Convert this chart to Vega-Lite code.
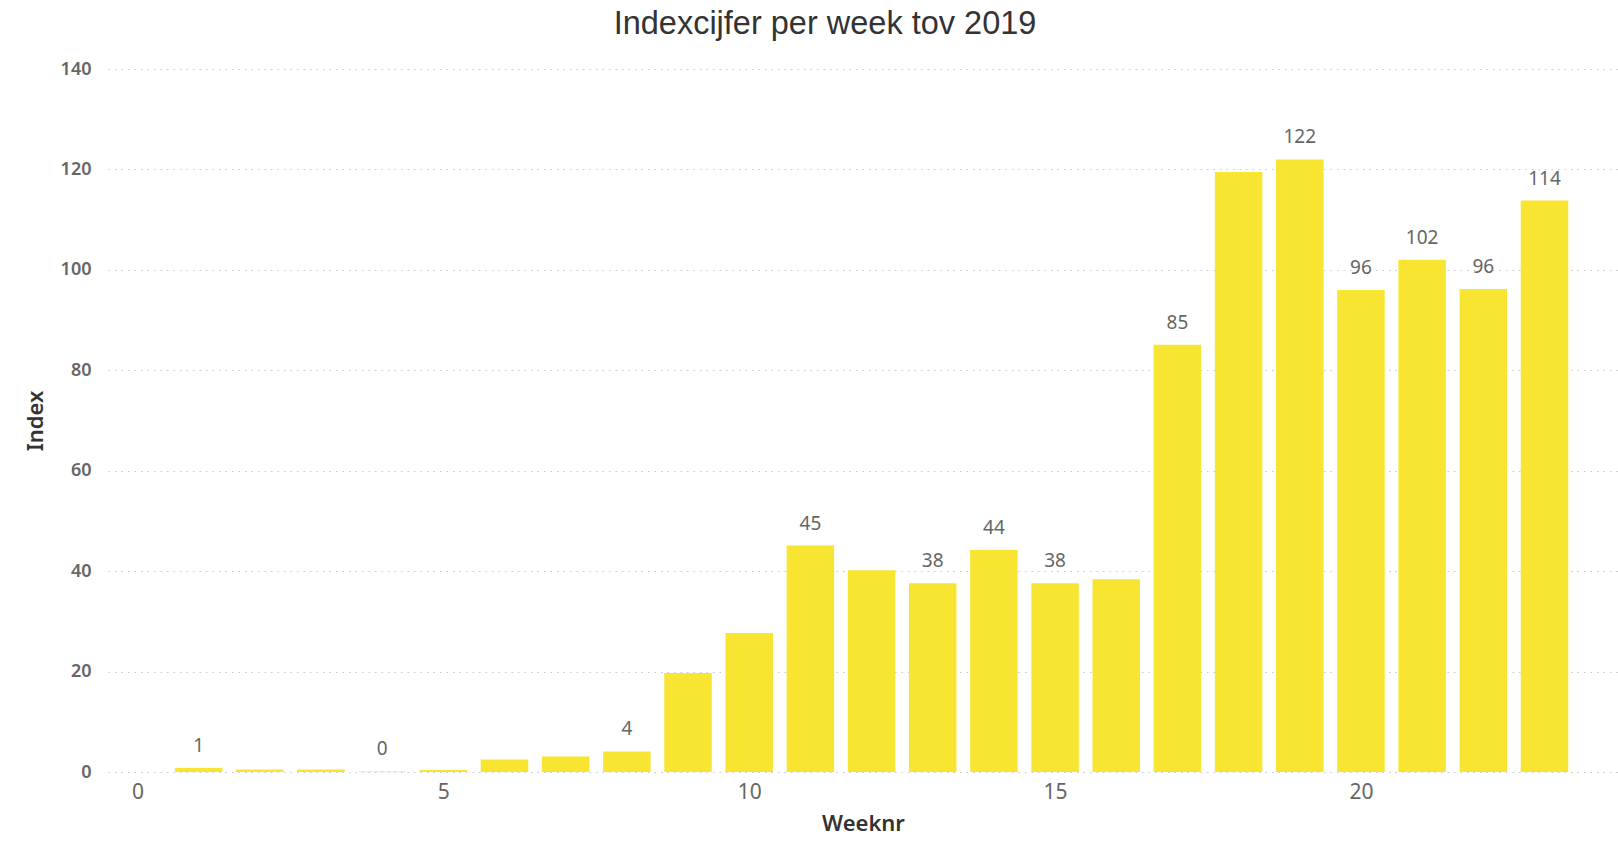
{
  "$schema": "https://vega.github.io/schema/vega-lite/v6.json",
  "autosize": {"type": "none"},
  "width": 1510,
  "height": 703,
  "padding": {"left": 108, "top": 69, "right": 0, "bottom": 69},
  "background": "white",
  "title": {
    "text": "Indexcijfer per week tov 2019",
    "font": "Liberation Sans",
    "fontSize": 32.5,
    "fontWeight": "normal",
    "color": "#333333",
    "anchor": "middle",
    "frame": "group",
    "dx": -38,
    "offset": 20
  },
  "data": {
    "values": [
      {"week": 1, "index": 0.8, "label": "1"},
      {"week": 2, "index": 0.5, "label": ""},
      {"week": 3, "index": 0.5, "label": ""},
      {"week": 4, "index": 0.1, "label": "0"},
      {"week": 5, "index": 0.4, "label": ""},
      {"week": 6, "index": 2.5, "label": ""},
      {"week": 7, "index": 3.1, "label": ""},
      {"week": 8, "index": 4.1, "label": "4"},
      {"week": 9, "index": 19.7, "label": ""},
      {"week": 10, "index": 27.7, "label": ""},
      {"week": 11, "index": 45.1, "label": "45"},
      {"week": 12, "index": 40.2, "label": ""},
      {"week": 13, "index": 37.6, "label": "38"},
      {"week": 14, "index": 44.2, "label": "44"},
      {"week": 15, "index": 37.6, "label": "38"},
      {"week": 16, "index": 38.4, "label": ""},
      {"week": 17, "index": 85.1, "label": "85"},
      {"week": 18, "index": 119.5, "label": ""},
      {"week": 19, "index": 122.0, "label": "122"},
      {"week": 20, "index": 96.0, "label": "96"},
      {"week": 21, "index": 102.0, "label": "102"},
      {"week": 22, "index": 96.2, "label": "96"},
      {"week": 23, "index": 113.8, "label": "114"}
    ]
  },
  "encoding": {
    "x": {
      "field": "week",
      "type": "quantitative",
      "title": "Weeknr",
      "scale": {"domain": [-0.4, 24.12], "nice": false, "zero": false},
      "axis": {
        "values": [0, 5, 10, 15, 20],
        "grid": false,
        "domain": false,
        "ticks": false,
        "labelFont": "Noto Sans",
        "labelFontSize": 21,
        "labelColor": "#666666",
        "labelPadding": 9,
        "titleFont": "Noto Sans",
        "titleFontSize": 22,
        "titleFontWeight": 600,
        "titleColor": "#333333",
        "titlePadding": 11,
        "labelFlush": false
      }
    },
    "y": {
      "field": "index",
      "type": "quantitative",
      "title": "Index",
      "scale": {"domain": [0, 140], "nice": false},
      "axis": {
        "values": [0, 20, 40, 60, 80, 100, 120, 140],
        "grid": true,
        "gridColor": "#c8c8c8",
        "gridDash": [1.5, 5],
        "gridWidth": 1.2,
        "domain": false,
        "ticks": false,
        "labelFont": "Noto Sans",
        "labelFontSize": 18,
        "labelFontWeight": 600,
        "labelColor": "#666666",
        "labelPadding": 17,
        "titleFont": "Noto Sans",
        "titleFontSize": 22,
        "titleFontWeight": 600,
        "titleColor": "#333333",
        "titlePadding": 13
      }
    }
  },
  "layer": [
    {
      "mark": {"type": "bar", "width": 47.5, "color": "#F8E531"}
    },
    {
      "mark": {
        "type": "text",
        "font": "Noto Sans",
        "fontSize": 19,
        "color": "#666666",
        "baseline": "middle",
        "dy": -22
      },
      "encoding": {"text": {"field": "label"}}
    }
  ],
  "config": {"view": {"stroke": null}}
}
